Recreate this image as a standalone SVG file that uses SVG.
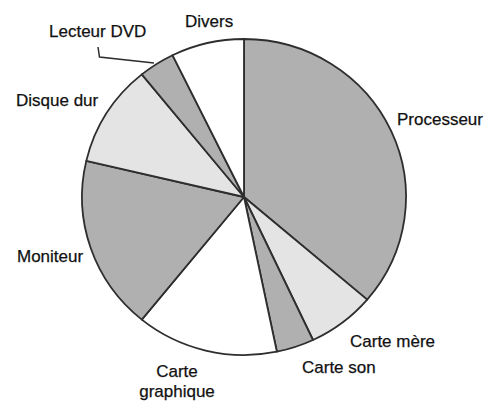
<svg xmlns="http://www.w3.org/2000/svg" width="491" height="405" viewBox="0 0 491 405">
<style>
.s{stroke:#2e2e2e;stroke-width:1.8;stroke-linejoin:round}
.dk{fill:#b0b0b0}
.lt{fill:#e4e4e4}
.wh{fill:#ffffff}
text{font-family:"Liberation Sans",Arial,sans-serif;font-size:17px;fill:#111111;stroke:#111111;stroke-width:0.25}
</style>
<rect width="491" height="405" fill="#ffffff"/>
<g id="pie">
<g id="processeur"><path class="s dk" d="M244,197 L244,39 A162,158 0 0 1 367.2,299.6 Z"/><text x="397" y="125">Processeur</text></g>
<g id="carte-mere"><path class="s lt" d="M244,197 L367.2,299.6 A162,158 0 0 1 313,340 Z"/><text x="350" y="347">Carte mère</text></g>
<g id="carte-son"><path class="s dk" d="M244,197 L313,340 A162,158 0 0 1 276.9,351.7 Z"/><text x="302" y="373">Carte son</text></g>
<g id="carte-graphique"><path class="s wh" d="M244,197 L276.9,351.7 A162,158 0 0 1 141.8,319.6 Z"/><text x="177" y="377" text-anchor="middle">Carte</text><text x="177" y="397" text-anchor="middle">graphique</text></g>
<g id="moniteur"><path class="s dk" d="M244,197 L141.8,319.6 A162,158 0 0 1 86.3,160.9 Z"/><text x="17" y="262">Moniteur</text></g>
<g id="disque-dur"><path class="s lt" d="M244,197 L86.3,160.9 A162,158 0 0 1 141.8,74.4 Z"/><text x="16" y="106">Disque dur</text></g>
<g id="lecteur-dvd"><path class="s dk" d="M244,197 L141.8,74.4 A162,158 0 0 1 172.5,55.2 Z"/><text x="49" y="37">Lecteur DVD</text></g>
<g id="divers"><path class="s wh" d="M244,197 L172.5,55.2 A162,158 0 0 1 244,39 Z"/><text x="185" y="27">Divers</text></g>
</g>
<g id="connectors">
<polyline points="98,47 99.5,57 154,63" fill="none" stroke="#2e2e2e" stroke-width="1.5"/>
</g>
</svg>
